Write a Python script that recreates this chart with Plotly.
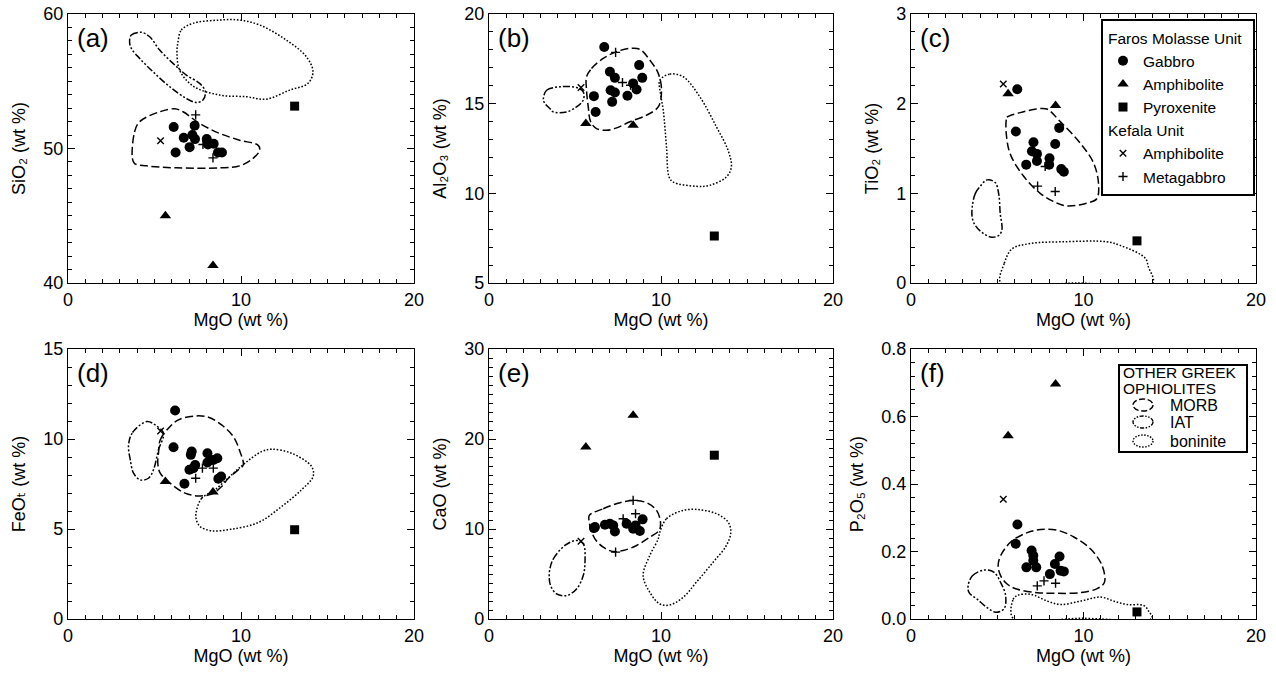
import plotly.graph_objects as go

# ---------------- data ----------------
# MgO of samples that appear once per panel
AMPH_MGO = [5.63, 8.38]          # Faros Molasse amphibolites
PYX_MGO = [13.1]                 # Faros Molasse pyroxenite
KAMPH_MGO = [5.35]               # Kefala amphibolite

# (a) SiO2
gab_x_a = [6.11, 7.32, 6.69, 7.19, 7.34, 7.03, 6.22, 8.02, 8.09, 8.42, 8.67, 8.9]
gab_y_a = [51.6, 51.7, 50.8, 51.0, 50.7, 50.1, 49.7, 50.7, 50.3, 50.35, 49.7, 49.7]
amph_y_a = [45.0, 41.3]
pyx_y_a = [53.15]
kamph_y_a = [50.57]
meta_x_a = [7.38, 8.38, 7.8]
meta_y_a = [52.5, 49.3, 50.3]
morb_x_a = [3.72, 3.85, 4.14, 5.30, 6.17, 6.65, 7.61, 8.77, 9.92, 10.98, 11.08, 10.69, 9.92, 8.77, 6.26, 4.53, 3.85]
morb_y_a = [49.26, 51.24, 51.99, 52.73, 52.95, 52.73, 51.86, 51.12, 50.62, 50.25, 49.88, 49.26, 48.71, 48.56, 48.56, 48.71, 48.88]
iat_x_a = [3.56, 3.66, 4.24, 4.72, 5.30, 6.07, 6.84, 7.61, 7.94, 7.80, 7.42, 6.84, 5.88, 4.91, 4.14, 3.66]
iat_y_a = [57.94, 58.44, 58.64, 58.31, 57.32, 56.33, 55.46, 54.84, 54.22, 53.60, 53.42, 53.72, 54.59, 55.71, 56.70, 57.44]
bon_x_a = [6.36, 6.55, 7.23, 8.77, 9.92, 11.08, 12.62, 13.78, 14.16, 13.87, 12.81, 11.46, 10.31, 8.77, 7.23, 6.45, 6.30]
bon_y_a = [57.94, 58.81, 59.31, 59.55, 59.55, 59.18, 58.06, 56.82, 55.71, 54.84, 54.34, 53.67, 53.85, 53.97, 54.64, 55.83, 57.07]

# (b) Al2O3
gab_x_b = [6.70, 7.03, 7.32, 7.07, 7.32, 6.10, 7.16, 6.20, 8.05, 8.73, 8.91, 8.38, 8.58]
gab_y_b = [18.16, 16.78, 16.44, 15.75, 15.62, 15.42, 15.10, 14.54, 15.44, 17.15, 16.44, 16.13, 15.79]
amph_y_b = [13.89, 13.80]
pyx_y_b = [7.62]
kamph_y_b = [15.90]
meta_x_b = [7.36, 7.76, 8.23]
meta_y_b = [17.86, 16.18, 16.03]
morb_x_b = [5.67, 5.96, 6.64, 7.42, 8.19, 8.77, 9.35, 9.84, 10.03, 9.84, 9.16, 8.19, 7.42, 6.83, 6.25, 5.91, 5.77, 5.67]
morb_y_b = [16.50, 16.96, 17.52, 17.90, 18.08, 18.03, 17.43, 16.69, 15.75, 14.82, 14.36, 13.99, 13.65, 13.52, 13.61, 13.99, 14.82, 15.75]
iat_x_b = [3.16, 3.35, 4.12, 5.09, 5.48, 5.48, 5.09, 4.51, 3.74, 3.54, 3.25]
iat_y_b = [15.23, 15.75, 15.94, 15.90, 15.66, 15.20, 14.82, 14.54, 14.54, 14.73, 15.01]
bon_x_b = [9.93, 10.51, 11.29, 12.26, 13.22, 13.90, 14.09, 13.80, 12.84, 12.06, 10.71, 10.47, 10.32, 10.13, 9.97]
bon_y_b = [16.31, 16.65, 16.50, 15.38, 13.71, 12.40, 11.47, 10.91, 10.45, 10.39, 10.63, 10.91, 12.59, 14.64, 15.57]

# (c) TiO2
gab_x_c = [6.16, 6.08, 7.10, 7.01, 7.30, 7.30, 6.68, 8.03, 8.01, 8.36, 8.59, 8.71, 8.86]
gab_y_c = [2.16, 1.69, 1.57, 1.47, 1.44, 1.36, 1.32, 1.39, 1.32, 1.55, 1.73, 1.27, 1.24]
amph_y_c = [2.11, 1.98]
pyx_y_c = [0.47]
kamph_y_c = [2.22]
meta_x_c = [7.34, 8.36, 7.78]
meta_y_c = [1.08, 1.02, 1.30]
morb_x_c = [5.52, 5.56, 6.33, 7.30, 7.88, 8.65, 9.81, 10.58, 10.87, 10.77, 10.19, 9.03, 8.36, 7.49, 6.53, 5.75, 5.52]
morb_y_c = [1.82, 1.85, 1.90, 1.94, 1.94, 1.80, 1.56, 1.34, 1.11, 0.94, 0.89, 0.86, 0.90, 1.00, 1.19, 1.44, 1.67]
iat_x_c = [3.55, 3.73, 4.02, 4.40, 4.88, 5.08, 5.17, 5.27, 5.08, 4.69, 4.21, 3.73, 3.55]
iat_y_c = [0.85, 1.00, 1.08, 1.15, 1.12, 1.00, 0.78, 0.59, 0.53, 0.51, 0.55, 0.64, 0.73]
bon_x_c = [5.21, 5.41, 5.85, 6.91, 8.84, 11.35, 12.12, 13.57, 13.76, 14.02, 9.6]
bon_y_c = [0.0, 0.22, 0.38, 0.44, 0.46, 0.46, 0.42, 0.28, 0.18, 0.0, 0.0]

# (d) FeOt
gab_x_d = [6.19, 6.10, 7.15, 7.10, 8.06, 8.63, 8.40, 8.06, 7.35, 7.25, 7.02, 8.85, 8.69, 6.73]
gab_y_d = [11.58, 9.54, 9.30, 9.12, 9.21, 8.93, 8.84, 8.69, 8.56, 8.38, 8.29, 7.92, 7.79, 7.51]
amph_y_d = [7.64, 7.05]
pyx_y_d = [4.96]
kamph_y_d = [10.45]
meta_x_d = [7.77, 8.40, 7.38]
meta_y_d = [8.38, 8.38, 7.82]
morb_x_d = [5.23, 5.33, 5.81, 6.38, 7.35, 8.12, 8.88, 9.56, 9.94, 10.13, 9.85, 9.27, 8.88, 8.31, 7.54, 6.77, 5.90, 5.33, 5.19]
morb_y_d = [9.21, 9.95, 10.60, 11.06, 11.28, 11.21, 10.78, 10.13, 9.30, 8.56, 8.29, 7.82, 7.36, 6.94, 6.84, 6.99, 7.55, 8.10, 8.66]
iat_x_d = [3.50, 3.73, 4.56, 5.04, 5.52, 5.23, 4.94, 4.65, 4.17, 3.79, 3.60]
iat_y_d = [9.67, 10.36, 10.97, 10.78, 10.32, 9.40, 8.29, 7.82, 7.73, 8.10, 8.84]
bon_x_d = [7.44, 7.73, 8.50, 9.46, 10.23, 11.19, 11.77, 12.92, 14.08, 14.17, 13.50, 12.35, 11.0, 9.46, 8.31, 7.63, 7.40]
bon_y_d = [6.07, 6.71, 7.18, 8.01, 8.66, 9.30, 9.43, 9.21, 8.47, 7.92, 7.18, 6.25, 5.36, 4.99, 4.90, 5.14, 5.60]

# (e) CaO
gab_x_e = [6.16, 6.74, 7.03, 7.22, 7.32, 8.00, 8.38, 8.52, 8.77, 8.93, 6.10]
gab_y_e = [10.21, 10.47, 10.58, 10.40, 9.73, 10.58, 10.03, 10.40, 9.77, 11.07, 10.10]
amph_y_e = [19.12, 22.65]
pyx_y_e = [18.20]
kamph_y_e = [8.65]
meta_x_e = [8.38, 8.52, 7.80, 7.36]
meta_y_e = [13.18, 11.70, 11.14, 7.43]
morb_x_e = [5.83, 6.64, 7.61, 8.38, 9.16, 9.74, 9.97, 9.89, 9.35, 8.58, 7.80, 7.22, 6.64, 6.16, 5.91, 5.83]
morb_y_e = [11.51, 12.25, 12.92, 13.18, 12.92, 12.07, 10.77, 9.84, 9.10, 8.17, 7.61, 7.50, 7.98, 8.91, 10.03, 10.77]
iat_x_e = [3.54, 3.74, 4.41, 5.09, 5.48, 5.58, 5.48, 5.09, 4.51, 3.93, 3.58, 3.50]
iat_y_e = [5.57, 6.68, 8.17, 8.73, 8.36, 6.31, 4.83, 3.34, 2.60, 2.78, 3.71, 4.64]
bon_x_e = [9.93, 10.32, 11.29, 12.26, 13.22, 13.90, 14.06, 13.80, 13.03, 12.06, 11.29, 10.51, 9.93, 9.35, 8.96, 9.35, 9.84]
bon_y_e = [9.65, 11.14, 12.07, 12.14, 11.70, 10.77, 9.65, 8.17, 6.31, 4.09, 2.41, 1.56, 1.67, 2.97, 4.83, 7.06, 8.91]

# (f) P2O5
gab_x_f = [6.17, 6.07, 6.99, 7.09, 7.09, 6.69, 7.26, 8.05, 8.34, 8.61, 8.67, 8.86]
gab_y_f = [0.28, 0.223, 0.203, 0.188, 0.173, 0.153, 0.153, 0.133, 0.163, 0.185, 0.143, 0.141]
amph_y_f = [0.543, 0.696]
pyx_y_f = [0.021]
kamph_y_f = [0.355]
meta_x_f = [7.32, 7.71, 8.38]
meta_y_f = [0.098, 0.113, 0.106]
morb_x_f = [5.05, 5.20, 5.78, 6.74, 7.51, 8.48, 9.44, 10.40, 11.08, 11.21, 10.79, 9.83, 8.48, 7.32, 6.17, 5.59, 5.20]
morb_y_f = [0.158, 0.188, 0.228, 0.256, 0.265, 0.263, 0.243, 0.208, 0.158, 0.108, 0.09, 0.078, 0.076, 0.078, 0.088, 0.103, 0.128]
iat_x_f = [3.31, 3.56, 4.24, 4.82, 5.20, 5.49, 5.39, 4.91, 4.43, 3.85, 3.37]
iat_y_f = [0.098, 0.128, 0.145, 0.138, 0.108, 0.068, 0.03, 0.02, 0.033, 0.058, 0.078]
bon_x_f = [5.92, 5.92, 6.17, 6.94, 7.90, 8.67, 9.83, 10.98, 11.75, 12.52, 13.49, 13.78, 13.97, 9.9]
bon_y_f = [0.002, 0.058, 0.07, 0.073, 0.053, 0.043, 0.053, 0.065, 0.053, 0.043, 0.04, 0.023, 0.002, 0.002]

panel_labels = ["(a)", "(b)", "(c)", "(d)", "(e)", "(f)"]
y_titles = ["SiO\u2082 (wt %)", "Al\u2082O\u2083 (wt %)", "TiO\u2082 (wt %)",
            "FeO\u209c (wt %)", "CaO (wt %)", "P\u2082O\u2085 (wt %)"]
x_title = "MgO (wt %)"
y_ranges = [[40, 60], [5, 20], [0, 3], [0, 15], [0, 30], [0, 0.8]]
y_dticks = [10, 5, 1, 5, 10, 0.2]
y_minor = [1, 1, 0.2, 1, 1, 0.04]

PANELS = [
    dict(gx=gab_x_a, gy=gab_y_a, ay=amph_y_a, py=pyx_y_a, ky=kamph_y_a, mx=meta_x_a, my=meta_y_a,
         morb=(morb_x_a, morb_y_a), iat=(iat_x_a, iat_y_a), bon=(bon_x_a, bon_y_a)),
    dict(gx=gab_x_b, gy=gab_y_b, ay=amph_y_b, py=pyx_y_b, ky=kamph_y_b, mx=meta_x_b, my=meta_y_b,
         morb=(morb_x_b, morb_y_b), iat=(iat_x_b, iat_y_b), bon=(bon_x_b, bon_y_b)),
    dict(gx=gab_x_c, gy=gab_y_c, ay=amph_y_c, py=pyx_y_c, ky=kamph_y_c, mx=meta_x_c, my=meta_y_c,
         morb=(morb_x_c, morb_y_c), iat=(iat_x_c, iat_y_c), bon=(bon_x_c, bon_y_c)),
    dict(gx=gab_x_d, gy=gab_y_d, ay=amph_y_d, py=pyx_y_d, ky=kamph_y_d, mx=meta_x_d, my=meta_y_d,
         morb=(morb_x_d, morb_y_d), iat=(iat_x_d, iat_y_d), bon=(bon_x_d, bon_y_d)),
    dict(gx=gab_x_e, gy=gab_y_e, ay=amph_y_e, py=pyx_y_e, ky=kamph_y_e, mx=meta_x_e, my=meta_y_e,
         morb=(morb_x_e, morb_y_e), iat=(iat_x_e, iat_y_e), bon=(bon_x_e, bon_y_e)),
    dict(gx=gab_x_f, gy=gab_y_f, ay=amph_y_f, py=pyx_y_f, ky=kamph_y_f, mx=meta_x_f, my=meta_y_f,
         morb=(morb_x_f, morb_y_f), iat=(iat_x_f, iat_y_f), bon=(bon_x_f, bon_y_f)),
]

# ---------------- styling / layout ----------------
W, H = 1276, 675
FONT = "Liberation Sans, Arial, Helvetica, DejaVu Sans, sans-serif"
LEG_FONT = dict(size=15.5, family=FONT, color="black")
col_px = [(68, 414), (489, 833), (911, 1256)]
row_px = [(14, 283), (349, 619)]

FIELD_DASH = {"morb": "8px,3.5px", "iat": "7px,2px,2px,2px,2px,2px", "bon": "1.6px,1.8px"}

fig = go.Figure()

def closed(xs, ys):
    return list(xs) + [xs[0]], list(ys) + [ys[0]]

for i, p in enumerate(PANELS):
    ax = "" if i == 0 else str(i + 1)
    xa, ya = "x" + ax, "y" + ax
    for key in ("morb", "iat", "bon"):
        fx, fy = p[key]
        cx, cy = closed(fx, fy)
        fig.add_trace(go.Scatter(x=cx, y=cy, mode="lines", xaxis=xa, yaxis=ya,
                                 line=dict(color="black", width=1.5, dash=FIELD_DASH[key],
                                           shape="spline", smoothing=1.0),
                                 showlegend=False, hoverinfo="skip"))
    first = i == 0
    fig.add_trace(go.Scatter(x=p["gx"], y=p["gy"], mode="markers", xaxis=xa, yaxis=ya,
                             name="Gabbro", legendgroup="faros", showlegend=first,
                             legendgrouptitle=dict(text="Faros Molasse Unit", font=LEG_FONT),
                             marker=dict(symbol="circle", size=10, color="black")))
    fig.add_trace(go.Scatter(x=AMPH_MGO, y=p["ay"], mode="markers", xaxis=xa, yaxis=ya,
                             name="Amphibolite", legendgroup="faros", showlegend=first,
                             legendgrouptitle=dict(text="Faros Molasse Unit", font=LEG_FONT),
                             marker=dict(symbol="triangle-up", size=10, color="black")))
    fig.add_trace(go.Scatter(x=PYX_MGO, y=p["py"], mode="markers", xaxis=xa, yaxis=ya,
                             name="Pyroxenite", legendgroup="faros", showlegend=first,
                             legendgrouptitle=dict(text="Faros Molasse Unit", font=LEG_FONT),
                             marker=dict(symbol="square", size=9, color="black")))
    fig.add_trace(go.Scatter(x=KAMPH_MGO, y=p["ky"], mode="markers", xaxis=xa, yaxis=ya,
                             name="Amphibolite", legendgroup="kefala", showlegend=first,
                             legendgrouptitle=dict(text="Kefala Unit", font=LEG_FONT),
                             marker=dict(symbol="x-thin", size=6.5, color="black",
                                         line=dict(color="black", width=1.4))))
    fig.add_trace(go.Scatter(x=p["mx"], y=p["my"], mode="markers", xaxis=xa, yaxis=ya,
                             name="Metagabbro", legendgroup="kefala", showlegend=first,
                             legendgrouptitle=dict(text="Kefala Unit", font=LEG_FONT),
                             marker=dict(symbol="cross-thin", size=6.5, color="black",
                                         line=dict(color="black", width=1.4))))

layout = dict(width=W, height=H, margin=dict(l=0, r=0, t=0, b=0, autoexpand=False), autosize=False,
              paper_bgcolor="white", plot_bgcolor="white",
              font=dict(family=FONT, size=18, color="black"), showlegend=True)

annotations = []
for i in range(6):
    r, c = divmod(i, 3)
    ax = "" if i == 0 else str(i + 1)
    x0, x1 = col_px[c]
    y0, y1 = row_px[r]
    common = dict(showline=True, linecolor="black", linewidth=1.3, mirror="ticks",
                  ticks="inside", ticklen=7, tickwidth=1.2, tickcolor="black", automargin=False,
                  showgrid=False, zeroline=False, tickfont=dict(size=18, family=FONT))
    layout["xaxis" + ax] = dict(common, domain=[x0 / W, x1 / W], range=[0, 20], dtick=10, tick0=0,
                                anchor="y" + ax,
                                minor=dict(dtick=1, ticks="inside", ticklen=4, tickcolor="black", tickwidth=1),
                                title=dict(text=x_title, font=dict(size=18), standoff=4))
    ydict = dict(common, domain=[1 - y1 / H, 1 - y0 / H], range=y_ranges[i], dtick=y_dticks[i],
                 tick0=0, anchor="x" + ax,
                 minor=dict(dtick=y_minor[i], ticks="inside", ticklen=4, tickcolor="black", tickwidth=1),
                 title=dict(text=y_titles[i], font=dict(size=18), standoff=12))
    if i == 5:
        ydict["tickformat"] = ".1f"
    layout["yaxis" + ax] = ydict
    annotations.append(dict(text=panel_labels[i], xref="x" + ax + " domain", yref="y" + ax + " domain",
                            x=0.02, y=0.975, xanchor="left", yanchor="top", showarrow=False,
                            font=dict(size=26, family=FONT)))

# legend for sample symbols (native), placed inside panel (c)
layout["legend"] = dict(x=1255 / W, y=1 - 19 / H, xanchor="right", yanchor="top",
                        bgcolor="white", bordercolor="black", borderwidth=2,
                        font=LEG_FONT, traceorder="grouped",
                        tracegroupgap=0, grouptitlefont=LEG_FONT, itemwidth=30)

# legend box for the field outlines, inside panel (f)
shapes = [dict(type="rect", xref="paper", yref="paper", x0=1119 / W, x1=1247 / W,
               y0=1 - 452 / H, y1=1 - 365 / H, line=dict(color="black", width=2),
               fillcolor="white", layer="above")]
leg2_rows = [("MORB", 405, "6px,2.5px"), ("IAT", 422, "4px,1.5px,1.5px,1.5px,1.5px,1.5px"),
             ("boninite", 441, "1.5px,1.5px")]
for label, yc, dash in leg2_rows:
    shapes.append(dict(type="circle", xref="paper", yref="paper", x0=1133 / W, x1=1153 / W,
                       y0=1 - (yc + 6) / H, y1=1 - (yc - 6) / H,
                       line=dict(color="black", width=1.4, dash=dash), layer="above"))
    annotations.append(dict(text=label, xref="paper", yref="paper", x=1168 / W, y=1 - yc / H,
                            xanchor="left", yanchor="middle", showarrow=False,
                            font=dict(size=16, family=FONT)))
annotations.append(dict(text="OTHER GREEK", xref="paper", yref="paper", x=1121 / W, y=1 - 372 / H,
                        xanchor="left", yanchor="middle", showarrow=False, font=dict(size=15.5, family=FONT)))
annotations.append(dict(text="OPHIOLITES", xref="paper", yref="paper", x=1121 / W, y=1 - 388.5 / H,
                        xanchor="left", yanchor="middle", showarrow=False, font=dict(size=15.5, family=FONT)))

layout["annotations"] = annotations
layout["shapes"] = shapes
fig.update_layout(**layout)
fig.write_html("out.html", config={"displayModeBar": False},
               post_script="document.body.style.margin='0px';")
